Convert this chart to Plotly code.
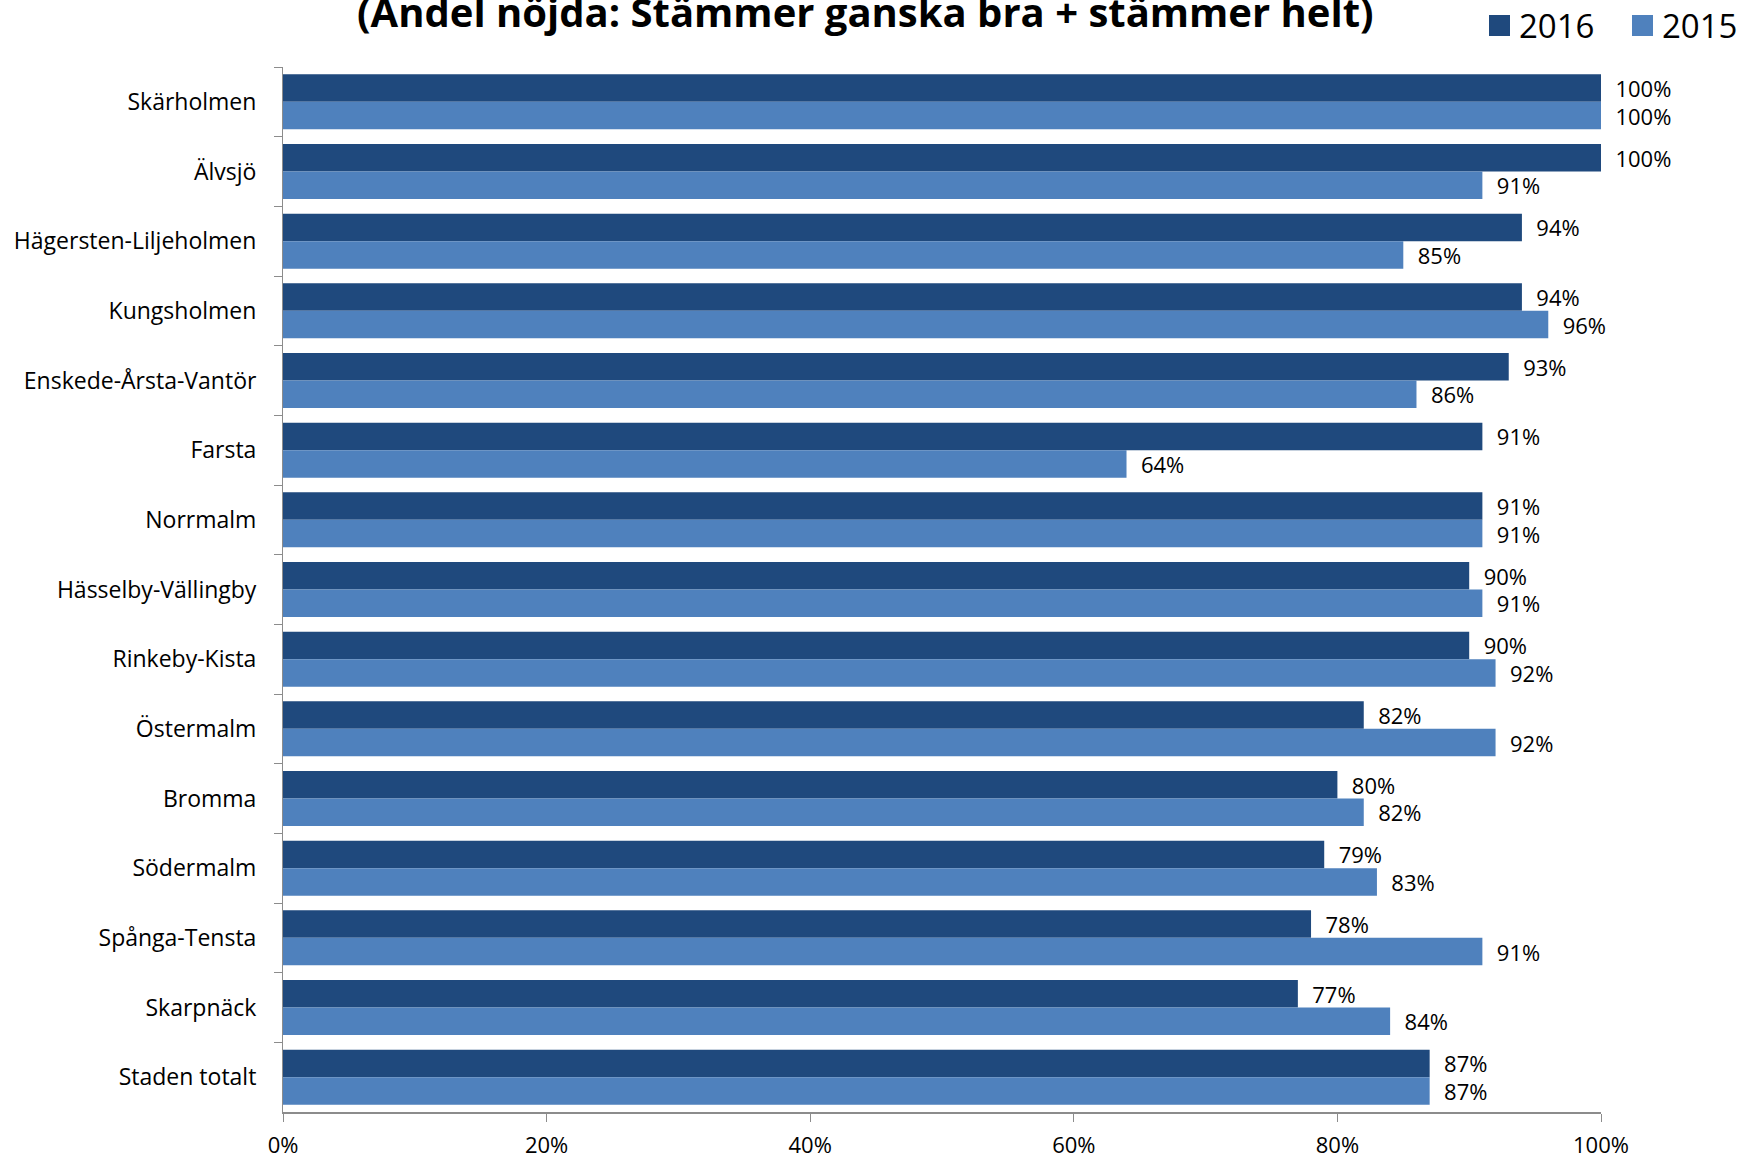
import plotly.graph_objects as go

# Stadsdelar (top to bottom) and share of satisfied respondents, per year
districts = [
    "Skärholmen", "Älvsjö", "Hägersten-Liljeholmen", "Kungsholmen",
    "Enskede-Årsta-Vantör", "Farsta", "Norrmalm", "Hässelby-Vällingby",
    "Rinkeby-Kista", "Östermalm", "Bromma", "Södermalm", "Spånga-Tensta",
    "Skarpnäck", "Staden totalt",
]
share_2016 = [100, 100, 94, 94, 93, 91, 91, 90, 90, 82, 80, 79, 78, 77, 87]
share_2015 = [100, 91, 85, 96, 86, 64, 91, 91, 92, 92, 82, 83, 91, 84, 87]

x_ticks = [0, 20, 40, 60, 80, 100]
x_tick_labels = ["0%", "20%", "40%", "60%", "80%", "100%"]

title_text = "(Andel nöjda: Stämmer ganska bra + stämmer helt)"

FONT = "Open Sans"
DARK = "#1F497D"
LIGHT = "#4F81BD"

W, H = 1743, 1159
ML, MR, MT, MB = 283, 142, 67, 47
PW, PH = W - ML - MR, H - MT - MB


def px_x(px):
    """Pixel column -> paper x."""
    return (px - ML) / PW


def px_y(py):
    """Pixel row -> paper y."""
    return 1 - (py - MT) / PH


series = [("2016", share_2016, DARK), ("2015", share_2015, LIGHT)]

fig = go.Figure()
for name, values, color in series:
    fig.add_trace(go.Bar(
        name=name,
        x=values,
        y=districts,
        orientation="h",
        marker=dict(color=color, line=dict(width=0)),
        text=[f"\u00a0\u00a0{v}%" for v in values],
        textposition="outside",
        constraintext="none",
        cliponaxis=False,
        textfont=dict(family=FONT, size=22, color="#000000"),
        hoverinfo="skip",
        showlegend=False,
    ))

# Legend: large square swatches with the year next to each
shapes = []
annotations = []
legend_items = [(1489, "2016", DARK), (1632, "2015", LIGHT)]
for left, label, color in legend_items:
    shapes.append(dict(
        type="rect", xref="paper", yref="paper",
        x0=px_x(left), x1=px_x(left + 21),
        y0=px_y(36), y1=px_y(15),
        fillcolor=color, line=dict(width=0),
    ))
    annotations.append(dict(
        text=label, xref="paper", yref="paper",
        x=px_x(left + 28), xanchor="left",
        y=px_y(25), yanchor="middle",
        showarrow=False,
        font=dict(family=FONT, size=33, color="#000000"),
    ))

annotations.append(dict(
    text="<b>" + title_text + "</b>",
    xref="paper", yref="paper",
    x=px_x(865), xanchor="center",
    y=px_y(11), yanchor="middle",
    showarrow=False,
    font=dict(family=FONT, size=40, color="#000000"),
))

fig.update_layout(
    width=W,
    height=H,
    margin=dict(l=ML, r=MR, t=MT, b=MB, autoexpand=False),
    paper_bgcolor="white",
    plot_bgcolor="white",
    barmode="group",
    bargap=0.21,
    bargroupgap=0,
    font=dict(family=FONT, size=23, color="#000000"),
    showlegend=False,
    shapes=shapes,
    annotations=annotations,
)

fig.update_xaxes(
    range=[0, 100],
    tickvals=x_ticks,
    ticktext=x_tick_labels,
    showgrid=False,
    zeroline=False,
    showline=True,
    linecolor="#8C8C8C",
    linewidth=2,
    ticks="outside",
    ticklen=8,
    tickcolor="#8C8C8C",
    tickwidth=1,
    ticklabelstandoff=5,
    tickfont=dict(family=FONT, size=22),
)
fig.update_yaxes(
    autorange="reversed",
    showgrid=False,
    zeroline=False,
    showline=True,
    linecolor="#8C8C8C",
    linewidth=1,
    ticks="outside",
    tickson="boundaries",
    ticklen=8,
    tickcolor="#8C8C8C",
    tickwidth=1,
    ticklabelstandoff=21,
    tickfont=dict(family=FONT, size=23),
)

fig.write_html("out.html")
